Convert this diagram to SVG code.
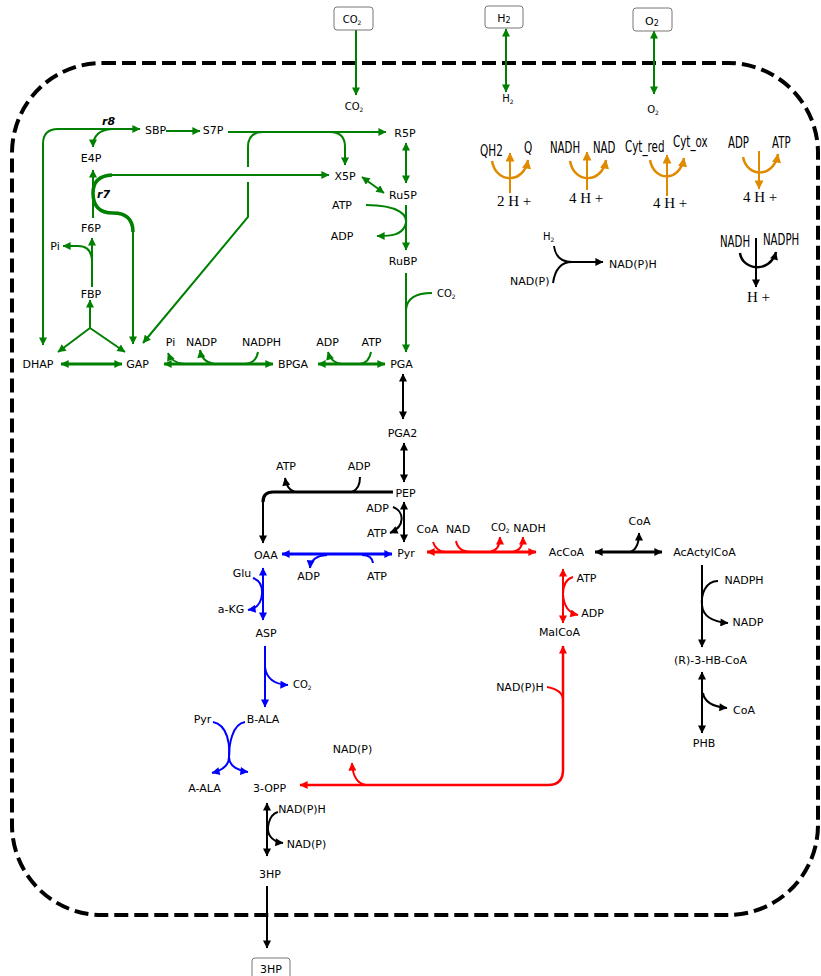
<svg xmlns="http://www.w3.org/2000/svg" width="821" height="976" viewBox="0 0 821 976">
<style>
text{font-family:"DejaVu Sans","Liberation Sans",sans-serif;font-size:11px;fill:#000}
.m{text-anchor:middle}
.s{font-size:10px}
.sub{font-size:6px}
.r{font-weight:bold;font-style:italic}
.c{font-size:15px}
.h{font-family:"Liberation Serif","DejaVu Serif",serif;font-size:15px}
.g{fill:none;stroke:#008000;stroke-width:2}
.k{fill:none;stroke:#000;stroke-width:2}
.b{fill:none;stroke:#0000ff;stroke-width:2}
.rd{fill:none;stroke:#ff0000;stroke-width:2}
.o{fill:none;stroke:#e08a00;stroke-width:2.5}
.box{fill:#fff;stroke:#777;stroke-width:1}
</style>
<defs>
<marker id="ag" viewBox="0 0 10 10" refX="9.5" refY="5" markerWidth="9" markerHeight="8" markerUnits="userSpaceOnUse" orient="auto-start-reverse"><path d="M0,0 L10,5 L0,10 z" fill="#008000"/></marker>
<marker id="ak" viewBox="0 0 10 10" refX="9.5" refY="5" markerWidth="9" markerHeight="8" markerUnits="userSpaceOnUse" orient="auto-start-reverse"><path d="M0,0 L10,5 L0,10 z" fill="#000"/></marker>
<marker id="ab" viewBox="0 0 10 10" refX="9.5" refY="5" markerWidth="9" markerHeight="8" markerUnits="userSpaceOnUse" orient="auto-start-reverse"><path d="M0,0 L10,5 L0,10 z" fill="#0000ff"/></marker>
<marker id="ar" viewBox="0 0 10 10" refX="9.5" refY="5" markerWidth="9" markerHeight="8" markerUnits="userSpaceOnUse" orient="auto-start-reverse"><path d="M0,0 L10,5 L0,10 z" fill="#ff0000"/></marker>
<marker id="ao" viewBox="0 0 10 10" refX="9.5" refY="5" markerWidth="10" markerHeight="9" markerUnits="userSpaceOnUse" orient="auto-start-reverse"><path d="M0,0 L10,5 L0,10 z" fill="#e08a00"/></marker>
</defs>

<g id="membrane"><rect x="12" y="63" width="806" height="852" rx="90" fill="none" stroke="#000" stroke-width="4" stroke-dasharray="14 6"/></g>

<g id="connectors">
<path class="g" d="M356 30 V95" marker-end="url(#ag)"/>
<path class="g" d="M506 29 V92" marker-start="url(#ag)" marker-end="url(#ag)"/>
<path class="g" d="M654 31 V94" marker-start="url(#ag)" marker-end="url(#ag)"/>
<path class="g" d="M43 345 V144 Q43 129 58 129 H140" marker-start="url(#ag)" marker-end="url(#ag)"/>
<path class="g" d="M112 129 Q93 130 93 147" marker-end="url(#ag)"/>
<path class="g" d="M166 131 H200" marker-end="url(#ag)"/>
<path class="g" d="M228 132 H386" marker-end="url(#ag)"/>
<path class="g" d="M263 132 Q248 132 248 147 V167"/>
<path class="g" d="M248 182 V217 L143 343" marker-end="url(#ag)"/>
<path class="g" d="M330 132 Q345 132 345 147 V165" marker-end="url(#ag)"/>
<path class="g" d="M329 175 H110 Q93 176 93 193 Q93 213 113 213 Q133 213 133 232 V344" marker-start="url(#ag)" marker-end="url(#ag)"/>
<path class="g" d="M112 175 Q93 176 93 193 Q93 213 113 213 Q133 213 133 232" style="stroke-width:3.5"/>
<path class="g" d="M93 218 V170" marker-end="url(#ag)"/>
<path class="g" d="M92 287 V238" marker-end="url(#ag)"/>
<path class="g" d="M92 262 Q92 246 78 246 H63" marker-end="url(#ag)"/>
<path class="g" d="M90 328 V300" marker-end="url(#ag)"/>
<path class="g" d="M90 328 L58 352" marker-end="url(#ag)"/>
<path class="g" d="M90 328 L125 352" marker-end="url(#ag)"/>
<path class="g" d="M61 364 H122" style="stroke-width:3" marker-start="url(#ag)" marker-end="url(#ag)"/>
<path class="g" d="M164 364 H273" style="stroke-width:3" marker-start="url(#ag)" marker-end="url(#ag)"/>
<path class="g" d="M184 364 Q172 363 168 353" marker-end="url(#ag)"/>
<path class="g" d="M214 364 Q202 362 200 350" marker-end="url(#ag)"/>
<path class="g" d="M258 352 Q256 363 245 364"/>
<path class="g" d="M318 364 H385" style="stroke-width:3" marker-start="url(#ag)" marker-end="url(#ag)"/>
<path class="g" d="M342 364 Q331 363 328 352" marker-end="url(#ag)"/>
<path class="g" d="M371 352 Q369 363 360 364"/>
<path class="g" d="M406 143 V183" marker-start="url(#ag)" marker-end="url(#ag)"/>
<path class="g" d="M362 177 L384 193" marker-start="url(#ag)" marker-end="url(#ag)"/>
<path class="g" d="M366 205 C398 205 410 215 405 226 C401 235 392 236 377 236" marker-end="url(#ag)"/>
<path class="g" d="M406 205 V250" marker-end="url(#ag)"/>
<path class="g" d="M406 273 V352" marker-end="url(#ag)"/>
<path class="g" d="M432 293 Q407 293 406 310"/>
<path class="k" d="M403 374 V419" marker-start="url(#ak)" marker-end="url(#ak)"/>
<path class="k" d="M404 443 V482" marker-start="url(#ak)" marker-end="url(#ak)"/>
<path class="k" d="M393 492 H273 Q263 492 263 502" style="stroke-width:3.2"/>
<path class="k" d="M263 500 V543" marker-end="url(#ak)"/>
<path class="k" d="M295 492 Q287 490 285 478" marker-end="url(#ak)"/>
<path class="k" d="M360 477 Q360 489 352 492"/>
<path class="k" d="M404 502 V542" marker-start="url(#ak)" marker-end="url(#ak)"/>
<path class="k" d="M393 507 C404 511 406 526 390 533" marker-end="url(#ak)"/>
<path class="k" d="M595 552 H662" style="stroke-width:3" marker-start="url(#ak)" marker-end="url(#ak)"/>
<path class="k" d="M630 552 Q639 549 639 533" marker-end="url(#ak)"/>
<path class="k" d="M702 565 V647" marker-end="url(#ak)"/>
<path class="k" d="M718 581 C705 581 701 595 702 605 C703 618 715 622 728 623" marker-end="url(#ak)"/>
<path class="k" d="M702 672 V733" marker-start="url(#ak)" marker-end="url(#ak)"/>
<path class="k" d="M703 693 Q705 706 727 708" marker-end="url(#ak)"/>
<path class="k" d="M267 803 V856" marker-start="url(#ak)" marker-end="url(#ak)"/>
<path class="k" d="M278 812 C268 815 266 830 270 836 Q274 842 283 843" marker-end="url(#ak)"/>
<path class="k" d="M267 886 V948" marker-end="url(#ak)"/>
<path class="k" d="M554 246 Q556 262 572 262"/>
<path class="k" d="M553 283 Q556 262 572 262"/>
<path class="k" d="M570 262 H603" marker-end="url(#ak)"/>
<path class="k" d="M740 253 C742 270 770 274 776 252" style="stroke-width:2.5" marker-end="url(#ak)"/>
<path class="k" d="M756 238 V287" marker-end="url(#ak)"/>
<path class="o" d="M492 161 C496 184 524 184 528 160" marker-end="url(#ao)"/>
<path class="o" d="M510 193 V153" style="stroke-width:2" marker-end="url(#ao)"/>
<path class="o" d="M570 161 C574 184 602 184 606 160" marker-end="url(#ao)"/>
<path class="o" d="M587 190 V152" style="stroke-width:2" marker-end="url(#ao)"/>
<path class="o" d="M650 160 C654 182 680 182 684 158" marker-end="url(#ao)"/>
<path class="o" d="M667 196 V155" style="stroke-width:2" marker-end="url(#ao)"/>
<path class="o" d="M743 157 C747 178 774 178 778 154" marker-end="url(#ao)"/>
<path class="o" d="M759 151 V189" style="stroke-width:2" marker-end="url(#ao)"/>
<path class="b" d="M282 554 H392" style="stroke-width:3" marker-start="url(#ab)" marker-end="url(#ab)"/>
<path class="b" d="M327 555 Q311 556 310 568" marker-end="url(#ab)"/>
<path class="b" d="M373 563 Q372 555 362 555"/>
<path class="b" d="M263 568 V620" marker-start="url(#ab)" marker-end="url(#ab)"/>
<path class="b" d="M253 578 Q263 582 262 594 Q261 608 248 610" marker-end="url(#ab)"/>
<path class="b" d="M265 646 V707" marker-end="url(#ab)"/>
<path class="b" d="M265 667 Q267 684 288 685" marker-end="url(#ab)"/>
<path class="b" d="M213 722 C228 725 230 745 229 757 C229 767 220 771 212 773" marker-end="url(#ab)"/>
<path class="b" d="M245 722 C232 724 229 745 229 757 C229 767 240 771 248 772" marker-end="url(#ab)"/>
<path class="rd" d="M427 552 H536" style="stroke-width:3" marker-start="url(#ar)" marker-end="url(#ar)"/>
<path class="rd" d="M433 542 Q436 551 445 552"/>
<path class="rd" d="M456 541 Q458 552 472 552"/>
<path class="rd" d="M490 552 Q500 550 500 537" marker-end="url(#ar)"/>
<path class="rd" d="M513 552 Q523 550 523 537" marker-end="url(#ar)"/>
<path class="rd" d="M563 569 V623" marker-start="url(#ar)" marker-end="url(#ar)"/>
<path class="rd" d="M573 577 Q563 580 563 594 Q564 612 578 615" marker-end="url(#ar)"/>
<path class="rd" d="M300 785 H548 Q563 785 563 770 V646" style="stroke-width:2.5" marker-start="url(#ar)" marker-end="url(#ar)"/>
<path class="rd" d="M547 687 Q563 690 563 700"/>
<path class="rd" d="M366 785 Q353 783 352 763" marker-end="url(#ar)"/>
</g>

<g id="ext-CO2"><rect class="box" x="334" y="7" width="39" height="23" rx="3"/><text class="s m" x="352" y="23">CO<tspan class="sub" dy="2">2</tspan></text></g>
<g id="ext-H2"><rect class="box" x="485" y="6" width="38" height="22" rx="3"/><text class="m" x="504" y="22">H<tspan font-size="8" dy="1">2</tspan></text></g>
<g id="ext-O2"><rect class="box" x="633" y="8" width="39" height="23" rx="3"/><text class="m" x="652" y="25">O<tspan font-size="8" dy="1">2</tspan></text></g>
<g id="ext-3HP"><rect class="box" x="252" y="958" width="38" height="30" rx="3"/><text class="m" x="271" y="973">3HP</text></g>

<g id="CO2in"><text class="s m" x="354" y="110">CO<tspan class="sub" dy="2">2</tspan></text></g>
<g id="H2in"><text class="s m" x="508" y="102">H<tspan class="sub" dy="2">2</tspan></text></g>
<g id="O2in"><text class="s m" x="653" y="113">O<tspan class="sub" dy="2">2</tspan></text></g>

<g id="r8"><text class="r" x="102" y="125">r8</text></g>
<g id="r7"><text class="r" x="97" y="198">r7</text></g>
<g id="SBP"><text class="m" x="155.5" y="134">SBP</text></g>
<g id="S7P"><text class="m" x="213" y="134">S7P</text></g>
<g id="R5P"><text class="m" x="405" y="137">R5P</text></g>
<g id="E4P"><text class="m" x="91" y="162">E4P</text></g>
<g id="X5P"><text class="m" x="345" y="180">X5P</text></g>
<g id="Ru5P"><text class="m" x="403" y="199">Ru5P</text></g>
<g id="ATP1"><text class="m" x="342" y="209">ATP</text></g>
<g id="ADP1"><text class="m" x="342" y="240">ADP</text></g>
<g id="F6P"><text class="m" x="91" y="232">F6P</text></g>
<g id="Pi1"><text class="m" x="55" y="250">Pi</text></g>
<g id="RuBP"><text class="m" x="403" y="265">RuBP</text></g>
<g id="FBP"><text class="m" x="91" y="298">FBP</text></g>
<g id="CO2c"><text class="s" x="437" y="297">CO<tspan class="sub" dy="2">2</tspan></text></g>
<g id="DHAP"><text class="m" x="38" y="368">DHAP</text></g>
<g id="GAP"><text class="m" x="137.5" y="368">GAP</text></g>
<g id="Pi2"><text class="m" x="170.5" y="346">Pi</text></g>
<g id="NADP1"><text class="m" x="201.5" y="346">NADP</text></g>
<g id="NADPH1"><text class="m" x="261.5" y="346">NADPH</text></g>
<g id="BPGA"><text class="m" x="293" y="368">BPGA</text></g>
<g id="ADP2"><text class="m" x="327.5" y="346">ADP</text></g>
<g id="ATP2"><text class="m" x="371.5" y="346">ATP</text></g>
<g id="PGA"><text class="m" x="401.5" y="368">PGA</text></g>
<g id="PGA2"><text class="m" x="402.5" y="437">PGA2</text></g>
<g id="ATP3"><text class="m" x="286" y="470">ATP</text></g>
<g id="ADP3"><text class="m" x="359" y="470">ADP</text></g>
<g id="PEP"><text class="m" x="405.5" y="497">PEP</text></g>
<g id="ADP4"><text class="m" x="377.5" y="512">ADP</text></g>
<g id="ATP4"><text class="m" x="377" y="537">ATP</text></g>
<g id="CoA1"><text class="m" x="427.5" y="533">CoA</text></g>
<g id="NAD1"><text class="m" x="458" y="533">NAD</text></g>
<g id="CO2d"><text class="s" x="491" y="531">CO<tspan class="sub" dy="2">2</tspan></text></g>
<g id="NADH1"><text class="m" x="529.5" y="532">NADH</text></g>
<g id="OAA"><text class="m" x="266" y="559">OAA</text></g>
<g id="Pyr"><text class="m" x="406" y="557">Pyr</text></g>
<g id="AcCoA"><text class="m" x="566.5" y="556">AcCoA</text></g>
<g id="CoA2"><text class="m" x="639.5" y="525">CoA</text></g>
<g id="AcActylCoA"><text class="m" x="704.5" y="556">AcActylCoA</text></g>
<g id="ADP5"><text class="m" x="308.5" y="580">ADP</text></g>
<g id="ATP5"><text class="m" x="377" y="580">ATP</text></g>
<g id="Glu"><text class="m" x="242" y="577">Glu</text></g>
<g id="aKG"><text class="m" x="231" y="613">a-KG</text></g>
<g id="ATP6"><text class="m" x="586.5" y="582">ATP</text></g>
<g id="ADP6"><text class="m" x="592.5" y="617">ADP</text></g>
<g id="NADPH2"><text class="m" x="744" y="584">NADPH</text></g>
<g id="NADP2"><text class="m" x="748" y="626">NADP</text></g>
<g id="ASP"><text class="m" x="266" y="637">ASP</text></g>
<g id="MalCoA"><text class="m" x="559.5" y="636">MalCoA</text></g>
<g id="CO2e"><text class="s" x="293" y="688">CO<tspan class="sub" dy="2">2</tspan></text></g>
<g id="NADPH3"><text class="m" x="520" y="691">NAD(P)H</text></g>
<g id="R3HBCoA"><text class="m" x="710.5" y="664">(R)-3-HB-CoA</text></g>
<g id="Pyr2"><text class="m" x="202.5" y="723">Pyr</text></g>
<g id="BALA"><text class="m" x="263" y="723">B-ALA</text></g>
<g id="CoA3"><text class="m" x="744" y="714">CoA</text></g>
<g id="PHB"><text class="m" x="704" y="747">PHB</text></g>
<g id="NADP3"><text class="m" x="352.5" y="753">NAD(P)</text></g>
<g id="AALA"><text class="m" x="204.5" y="792">A-ALA</text></g>
<g id="OPP"><text class="m" x="269.5" y="792">3-OPP</text></g>
<g id="NADPH4"><text class="m" x="302" y="813">NAD(P)H</text></g>
<g id="NADP4"><text class="m" x="306.5" y="848">NAD(P)</text></g>
<g id="HP3"><text class="m" x="270" y="878">3HP</text></g>

<g id="QH2-Q"><text class="c" transform="translate(480,156) scale(0.7,1)">QH2</text><text class="c" transform="translate(524,153) scale(0.7,1)">Q</text><text class="h" x="497" y="206">2 H +</text></g>
<g id="NADH-NAD"><text class="c" transform="translate(550,153) scale(0.68,1)">NADH</text><text class="c" transform="translate(593,153) scale(0.68,1)">NAD</text><text class="h" x="569" y="203">4 H +</text></g>
<g id="Cyt"><text class="c" transform="translate(625,152) scale(0.69,1)">Cyt_red</text><text class="c" transform="translate(673,147) scale(0.69,1)">Cyt_ox</text><text class="h" x="653" y="208">4 H +</text></g>
<g id="ATPase"><text class="c" transform="translate(728,148) scale(0.68,1)">ADP</text><text class="c" transform="translate(772,148) scale(0.68,1)">ATP</text><text class="h" x="743" y="202">4 H +</text></g>
<g id="hydrogenase"><text class="s" x="543" y="240">H<tspan class="sub" dy="2">2</tspan></text><text x="510" y="285">NAD(P)</text><text x="609" y="268">NAD(P)H</text></g>
<g id="transhydrogenase"><text class="c" transform="translate(720,247) scale(0.68,1)">NADH</text><text class="c" transform="translate(763,245) scale(0.68,1)">NADPH</text><text class="h" x="747" y="302">H +</text></g>
</svg>
